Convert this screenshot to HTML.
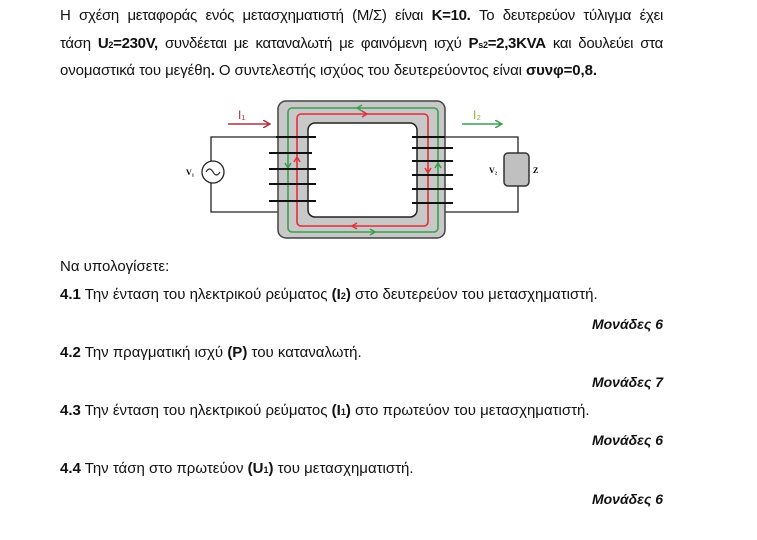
<!DOCTYPE html>
<html><head><meta charset="utf-8"><style>
body{margin:0;width:757px;height:540px;background:#fff;position:relative;font-family:"Liberation Sans","DejaVu Sans",sans-serif;color:#111;overflow:hidden}
.t{position:absolute;left:60px;font-size:15px;white-space:nowrap;letter-spacing:0px}
.j{position:absolute;left:60px;width:603px;font-size:15px;text-align:justify;text-align-last:justify;white-space:nowrap;letter-spacing:-0.3px}
.r{position:absolute;right:94px;font-size:14px;font-weight:bold;font-style:italic}
b{font-weight:bold}
</style></head><body>
<div class="j" style="top:7px">Η σχέση μεταφοράς ενός μετασχηματιστή (Μ/Σ) είναι <b>K=10.</b> Το δευτερεύον τύλιγμα έχει</div>
<div class="j" style="top:35px">τάση <b>U<span style="font-size:9px">2</span>=230V,</b> συνδέεται με καταναλωτή με φαινόμενη ισχύ <b>P<span style="font-size:9px">s2</span>=2,3KVA</b> και δουλεύει στα</div>
<div class="t" style="top:62px;letter-spacing:-0.1px">ονομαστικά του μεγέθη<b>.</b> Ο συντελεστής ισχύος του δευτερεύοντος είναι <b>συνφ=0,8.</b></div>

<svg style="position:absolute;left:0;top:0" width="757" height="260">
<defs>
<marker id="ar" markerWidth="8" markerHeight="8" refX="7" refY="4" orient="auto" markerUnits="userSpaceOnUse"><path d="M0,0 L7,4 L0,8" fill="none" stroke="#b03040" stroke-width="1.5"/></marker>
<marker id="ag" markerWidth="8" markerHeight="8" refX="7" refY="4" orient="auto" markerUnits="userSpaceOnUse"><path d="M0,0 L7,4 L0,8" fill="none" stroke="#3aa050" stroke-width="1.5"/></marker>
</defs>
<g stroke="#222" stroke-width="1.3" fill="none">
<path d="M278,137 H211 V212 H278"/>
<path d="M445,137 H518 V212 H445"/>
</g>
<circle cx="213" cy="172" r="11" fill="#fff" stroke="#222" stroke-width="1.3"/>
<path d="M206,172 q3.5,-6 7,0 t7,0" fill="none" stroke="#222" stroke-width="1.2"/>
<text x="186" y="175" font-size="8" font-family="Liberation Serif" font-weight="bold">V₁</text>
<rect x="278" y="101" width="167" height="137" rx="8" fill="#c8c8c8" stroke="#444" stroke-width="1.5"/>
<rect x="308" y="123" width="109" height="94" rx="7" fill="#fff" stroke="#222" stroke-width="1.5"/>
<rect x="288" y="108" width="150" height="124" rx="4" fill="none" stroke="#3aa050" stroke-width="1.6"/>
<rect x="297" y="114" width="131" height="112" rx="4" fill="none" stroke="#e0303a" stroke-width="1.6"/>
<g stroke-width="1.5" fill="none">
<path d="M285,163 l3,5 l3,-5" stroke="#3aa050"/><path d="M294,162 l3,-5 l3,5" stroke="#e0303a"/>
<path d="M425,168 l3,5 l3,-5" stroke="#e0303a"/><path d="M435,168 l3,-5 l3,5" stroke="#3aa050"/>
<path d="M362,105 l-5,3 l5,3" stroke="#3aa050"/><path d="M362,111 l5,3 l-5,3" stroke="#e0303a"/>
<path d="M357,223 l-5,3 l5,3" stroke="#e0303a"/><path d="M370,229 l5,3 l-5,3" stroke="#3aa050"/>
</g>
<g stroke="#111" stroke-width="2">
<path d="M269,153 H312 M276,137 H316 M269,169 H316 M269,184 H316 M269,201 H316"/>
<path d="M412,137 H445 M412,148 H453 M412,161 H453 M412,175 H453 M412,189 H453 M412,203 H453"/>
</g>
<line x1="228" y1="124" x2="270" y2="124" stroke="#b03040" stroke-width="1.5" marker-end="url(#ar)"/>
<text x="238" y="119" font-size="12" fill="#b03040">I₁</text>
<line x1="462" y1="124" x2="502" y2="124" stroke="#3aa050" stroke-width="1.5" marker-end="url(#ag)"/>
<text x="473" y="119" font-size="12" fill="#a0b040">I₂</text>
<rect x="504" y="153" width="25" height="33" rx="4" fill="#c0c0c0" stroke="#333" stroke-width="1.5"/>
<text x="489" y="173" font-size="8" font-family="Liberation Serif" font-weight="bold">V₂</text>
<text x="533" y="173" font-size="8" font-family="Liberation Serif" font-weight="bold">Z</text>
</svg>

<div class="t" style="top:258px">Να υπολογίσετε:</div>
<div class="t" style="top:286px"><b>4.1</b> Την ένταση του ηλεκτρικού ρεύματος <b>(I<span style="font-size:9px">2</span>)</b> στο δευτερεύον του μετασχηματιστή.</div>
<div class="r" style="top:316px">Μονάδες 6</div>
<div class="t" style="top:344px"><b>4.2</b> Την πραγματική ισχύ <b>(P)</b> του καταναλωτή.</div>
<div class="r" style="top:374px">Μονάδες 7</div>
<div class="t" style="top:402px"><b>4.3</b> Την ένταση του ηλεκτρικού ρεύματος <b>(I<span style="font-size:9px">1</span>)</b> στο πρωτεύον του μετασχηματιστή.</div>
<div class="r" style="top:432px">Μονάδες 6</div>
<div class="t" style="top:460px"><b>4.4</b> Την τάση στο πρωτεύον <b>(U<span style="font-size:9px">1</span>)</b> του μετασχηματιστή.</div>
<div class="r" style="top:491px">Μονάδες 6</div>
</body></html>
